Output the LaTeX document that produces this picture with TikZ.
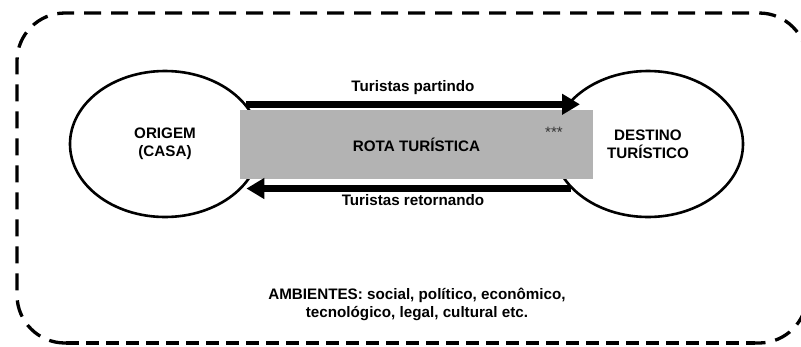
\documentclass[tikz,border=0pt]{standalone}
\usepackage{fontspec}
\setmainfont{Liberation Sans}
\usetikzlibrary{shapes.geometric,arrows.meta}
\definecolor{routegray}{HTML}{B3B3B3}
\begin{document}
\begin{tikzpicture}[x=1pt,y=1pt,
  lbl/.style={font=\fontsize{15.2}{18}\selectfont\bfseries, inner sep=0pt, align=center},
  place/.style={ellipse, draw, line width=2.6pt, minimum width=190pt, minimum height=146pt, inner sep=0pt, lbl},
  outer/.style={line width=3.3pt, dash pattern=on 17pt off 10pt},
  flow/.style={line width=7pt, -{Triangle[length=18pt,width=20pt]}}
]
\useasboundingbox (0,0) rectangle (801,-346);
% environment boundary
\draw[outer, rounded corners=48pt] (66,-343) -- (17,-343) -- (17,-13) -- (807,-13) -- (807,-343) -- (755,-343);
\draw[line width=3.8pt, dash pattern=on 13pt off 7pt] (66,-343) -- (755,-343);
% places
\node[place] (L) at (165,-144) {ORIGEM\\(CASA)};
\node[place] (R) at (648,-144) {DESTINO\\TURÍSTICO};
% route
\node[fill=routegray, minimum width=353pt, minimum height=69pt, inner sep=0pt, lbl] (route) at (416.5,-144.5) {ROTA TURÍSTICA};
\node[font=\fontsize{15}{15}\selectfont, text=black!80, inner sep=0pt, anchor=base] (stars) at (554,-137) {***};
% flows
\coordinate (ta) at (580,-103);
\draw[flow] (L.26) -- (L.26 -| ta);
\draw[flow] (R.210) -- (R.210 -| L.-26);
\node[lbl] (dep) at (413,-88) {Turistas partindo};
\node[lbl] (ret) at (413,-200) {Turistas retornando};
\node[lbl] (env) at (417,-304) {AMBIENTES: social, político, econômico,\\tecnológico, legal, cultural etc.};
\end{tikzpicture}
\end{document}
